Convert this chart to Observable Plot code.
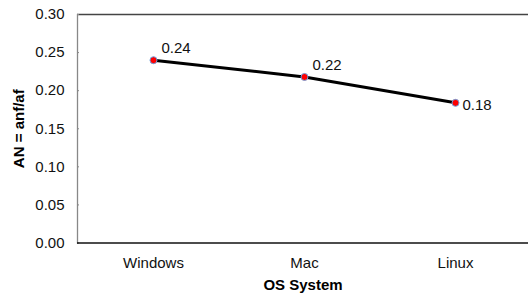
<!DOCTYPE html>
<html><head><meta charset="utf-8">
<script src="https://cdn.jsdelivr.net/npm/d3@7"></script>
<script src="https://cdn.jsdelivr.net/npm/@observablehq/plot@0.6"></script>
<style>
html,body{margin:0;padding:0;background:#fff;}
svg{font-family:"Liberation Sans",Arial,sans-serif;}
</style></head>
<body><div id="chart"></div>
<script>
const systems = ["Windows", "Mac", "Linux"];
const values = [0.24, 0.218, 0.184];
const labels = ["0.24", "0.22", "0.18"];
const yTicks = [0, 0.05, 0.10, 0.15, 0.20, 0.25, 0.30];

const data = systems.map((s, i) => ({system: s, value: values[i], label: labels[i], last: i === systems.length - 1}));

const chart = Plot.plot({
  width: 528,
  height: 296,
  marginLeft: 77,
  marginRight: 0,
  marginTop: 14,
  marginBottom: 53.5,
  style: {fontFamily: "'Liberation Sans', Arial, sans-serif", fontSize: "15px", color: "#000", background: "#fff"},
  x: {type: "point", domain: systems, range: [77, 530], padding: 0.5, label: null},
  y: {domain: [0, 0.3], label: null},
  marks: [
    Plot.ruleY([0.3], {stroke: "#444", strokeWidth: 1.3}),
    Plot.frame({anchor: "left", stroke: "#888", strokeWidth: 1.3}),
    Plot.axisY(yTicks, {tickSize: -2, tickPadding: 15, stroke: "#888", tickFormat: d3.format(".2f"), fontSize: 15, fill: "#111"}),
    Plot.axisX({tickSize: 0, tickPadding: 14, fontSize: 15, fill: "#111", label: null}),
    Plot.ruleY([0], {stroke: "#111", strokeWidth: 1.5}),
    Plot.line(data, {x: "system", y: "value", stroke: "#000", strokeWidth: 3}),
    Plot.dot(data, {x: "system", y: "value", r: 3.5, fill: "#f00", stroke: "#6fa0dc", strokeWidth: 1}),
    Plot.text(data.filter(d => !d.last), {x: "system", y: "value", text: "label", textAnchor: "start", dx: 8, dy: -12, fontSize: 15, fill: "#111"}),
    Plot.text(data.filter(d => d.last), {x: "system", y: "value", text: "label", textAnchor: "start", dx: 7, dy: 2, fontSize: 15, fill: "#111"}),
    Plot.text(["OS System"], {frameAnchor: "bottom", dy: 42.5, lineAnchor: "middle", textAnchor: "middle", fontWeight: "bold", fontSize: 15, fill: "#000"}),
    Plot.text(["AN = anf/af"], {frameAnchor: "left", dx: -58, rotate: -90, lineAnchor: "middle", textAnchor: "middle", fontWeight: "bold", fontSize: 15, fill: "#000"})
  ]
});
document.getElementById("chart").appendChild(chart);
</script></body></html>
